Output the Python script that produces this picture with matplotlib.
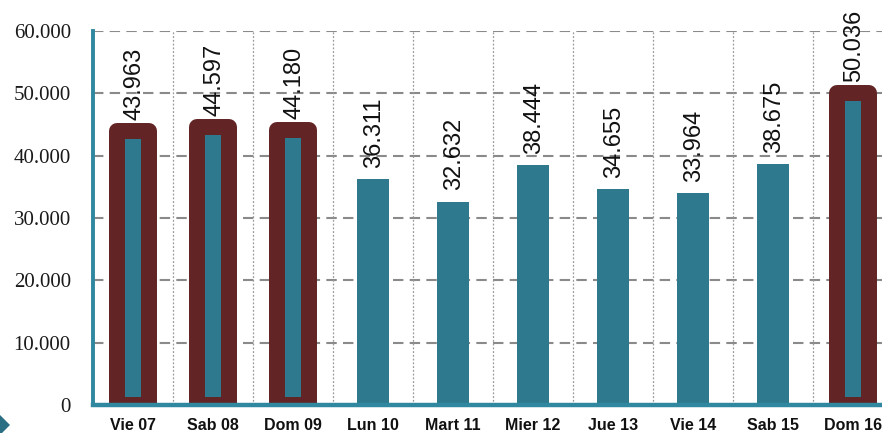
import matplotlib
matplotlib.use("Agg")
import matplotlib.pyplot as plt
from matplotlib.patches import Polygon

categories = ["Vie 07", "Sab 08", "Dom 09", "Lun 10", "Mart 11", "Mier 12", "Jue 13", "Vie 14", "Sab 15", "Dom 16"]
values = [43963, 44597, 44180, 36311, 32632, 38444, 34655, 33964, 38675, 50036]
highlight = [True, True, True, False, False, False, False, False, False, True]
yticks = [0, 10000, 20000, 30000, 40000, 50000, 60000]

teal = "#2E798E"
maroon = "#622424"
spine_c = "#2F87A0"

fig = plt.figure(figsize=(8.82, 4.33), dpi=100)
ax = fig.add_axes([93/882, (433-405)/433, 800/882, (405-31)/433])

x = list(range(len(categories)))
for i, (v, h) in enumerate(zip(values, highlight)):
    if h:
        ax.bar(i, v, width=0.39, color=teal, edgecolor=maroon, linewidth=11.5,
               joinstyle="round", zorder=3)
    else:
        ax.bar(i, v, width=0.39, color=teal, edgecolor="none", zorder=3)
    ax.annotate(f"{v/1000:.3f}", (i, v), xytext=(1, 8), textcoords="offset points",
                rotation=90, ha="center", va="bottom", fontsize=17,
                family="Liberation Sans", color="#111111", annotation_clip=False, zorder=4)

ax.set_xlim(-0.5, len(categories) - 0.5)
ax.set_ylim(0, 60000)
ax.set_yticks(yticks)
ax.set_yticklabels(["0" if t == 0 else f"{t/1000:.3f}" for t in yticks],
                   family="Liberation Serif", fontsize=15, color="#1a1a1a")
ax.set_xticks(x)
ax.set_xticklabels(categories, family="Liberation Sans", fontweight="bold", fontsize=11.5, color="#111111")
ax.tick_params(axis="both", length=0)
ax.tick_params(axis="y", pad=16)
ax.tick_params(axis="x", pad=9)

for t in yticks[1:]:
    ax.axhline(t, color="#8a8a8a", linestyle=(0, (5, 3)), linewidth=1.5, zorder=1)
for b in range(len(categories) - 1):
    ax.axvline(b + 0.5, color="#9a9a9a", linestyle=(0, (1.5, 1.5)), linewidth=0.9, zorder=1)

for s in ["top", "right"]:
    ax.spines[s].set_visible(False)
ax.spines["left"].set_color(spine_c)
ax.spines["left"].set_linewidth(2.8)
ax.spines["bottom"].set_color(spine_c)
ax.spines["bottom"].set_linewidth(3.2)
ax.spines["bottom"].set_zorder(5)

# small decorative arrow at bottom-left
fig.patches.append(Polygon([(-1/882, (433-414)/433), (10/882, (433-425)/433), (-1/882, (433-436)/433)],
                           closed=True, transform=fig.transFigure, facecolor="#2A6E84", edgecolor="none"))

fig.savefig("out.png", dpi=100)
